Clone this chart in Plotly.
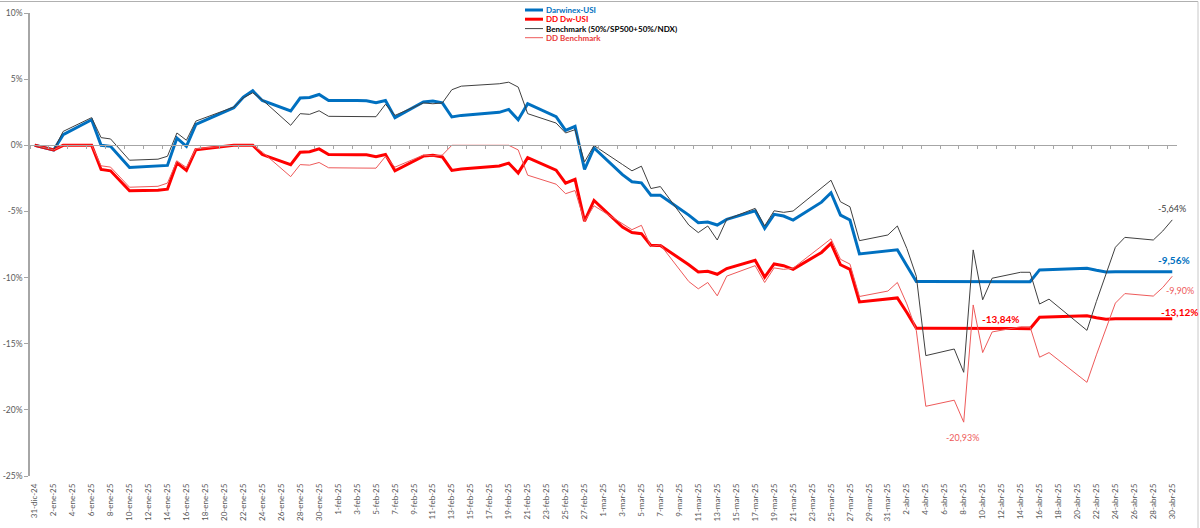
import pandas as pd
import plotly.graph_objects as go

# ---------------- data ----------------
dates = [
    "2024-12-31",
    "2025-01-02", "2025-01-03", "2025-01-06", "2025-01-07", "2025-01-08", "2025-01-10",
    "2025-01-13", "2025-01-14", "2025-01-15", "2025-01-16", "2025-01-17",
    "2025-01-21", "2025-01-22", "2025-01-23", "2025-01-24",
    "2025-01-27", "2025-01-28", "2025-01-29", "2025-01-30", "2025-01-31",
    "2025-02-03", "2025-02-04", "2025-02-05", "2025-02-06", "2025-02-07",
    "2025-02-10", "2025-02-11", "2025-02-12", "2025-02-13", "2025-02-14",
    "2025-02-18", "2025-02-19", "2025-02-20", "2025-02-21",
    "2025-02-24", "2025-02-25", "2025-02-26", "2025-02-27", "2025-02-28",
    "2025-03-03", "2025-03-04", "2025-03-05", "2025-03-06", "2025-03-07",
    "2025-03-10", "2025-03-11", "2025-03-12", "2025-03-13", "2025-03-14",
    "2025-03-17", "2025-03-18", "2025-03-19", "2025-03-20", "2025-03-21",
    "2025-03-24", "2025-03-25", "2025-03-26", "2025-03-27", "2025-03-28",
    "2025-03-31", "2025-04-01", "2025-04-02", "2025-04-03", "2025-04-04",
    "2025-04-07", "2025-04-08", "2025-04-09", "2025-04-10", "2025-04-11",
    "2025-04-14", "2025-04-15", "2025-04-16", "2025-04-17",
    "2025-04-21", "2025-04-22", "2025-04-23", "2025-04-24", "2025-04-25",
    "2025-04-28", "2025-04-29", "2025-04-30",
]

darwinex_usi = [
    0.00, -0.35, 0.80, 1.93, 0.00, -0.08, -1.68,
    -1.60, -1.52, 0.55, -0.08, 1.58,
    2.84, 3.64, 4.12, 3.39,
    2.59, 3.57, 3.62, 3.84, 3.39,
    3.38, 3.37, 3.22, 3.39, 2.09,
    3.27, 3.34, 3.21, 2.14, 2.26,
    2.49, 2.71, 1.93, 3.14,
    2.16, 1.13, 1.43, -1.83, -0.20,
    -2.22, -2.76, -2.84, -3.77, -3.77,
    -5.28, -5.85, -5.80, -6.03, -5.60,
    -4.95, -6.28, -5.22, -5.35, -5.65,
    -4.30, -3.59, -5.28, -5.65, -8.21,
    -7.95, -7.90, -9.10, -10.29, -10.29,
    -10.29, -10.29, -10.29, -10.29, -10.30,
    -10.32, -10.32, -9.42, -9.40,
    -9.30, -9.45, -9.58, -9.56, -9.56,
    -9.56, -9.56, -9.56,
]

dd_dw_usi = [
    0.00, -0.35, 0.00, 0.00, -1.83, -1.93, -3.44,
    -3.40, -3.32, -1.33, -1.90, -0.33,
    0.00, 0.00, 0.00, -0.70,
    -1.47, -0.53, -0.48, -0.27, -0.70,
    -0.71, -0.72, -0.86, -0.70, -1.93,
    -0.82, -0.75, -0.88, -1.90, -1.79,
    -1.57, -1.35, -2.10, -0.94,
    -1.88, -2.87, -2.58, -5.73, -4.17,
    -6.18, -6.60, -6.68, -7.57, -7.57,
    -9.03, -9.57, -9.52, -9.75, -9.32,
    -8.69, -9.97, -8.97, -9.10, -9.38,
    -8.10, -7.41, -9.03, -9.38, -11.84,
    -11.58, -11.54, -12.64, -13.84, -13.84,
    -13.84, -13.84, -13.84, -13.84, -13.85,
    -13.86, -13.86, -13.00, -12.98,
    -12.89, -13.03, -13.15, -13.12, -13.12,
    -13.12, -13.12, -13.12,
]

benchmark = [
    0.00, -0.35, 1.05, 2.09, 0.58, 0.48, -1.13,
    -1.05, -0.83, 0.93, 0.38, 1.83,
    2.89, 3.59, 3.97, 3.44,
    1.51, 2.39, 2.34, 2.61, 2.19,
    2.17, 2.16, 2.16, 3.10, 2.26,
    3.20, 3.14, 3.20, 4.20, 4.47,
    4.65, 4.77, 4.40, 2.39,
    1.68, 0.93, 1.18, -1.26, -0.02,
    -1.45, -1.93, -1.58, -3.27, -3.12,
    -6.03, -6.60, -6.10, -7.16, -5.60,
    -4.77, -6.10, -4.95, -5.07, -4.97,
    -3.19, -2.64, -4.27, -4.65, -7.21,
    -6.78, -6.10, -7.80, -9.90, -15.90,
    -15.40, -17.16, -7.91, -11.68, -10.05,
    -9.60, -9.60, -12.00, -11.63,
    -13.99, -11.80, -9.80, -7.71, -6.96,
    -7.16, -6.48, -5.64,
]

dd_benchmark = [
    0.00, -0.35, 0.00, 0.00, -1.55, -1.65, -3.17,
    -3.10, -2.86, -1.18, -1.68, -0.26,
    0.00, 0.00, 0.00, -0.51,
    -2.37, -1.46, -1.50, -1.30, -1.70,
    -1.72, -1.73, -1.73, -0.84, -1.65,
    -0.74, -0.80, -0.74, 0.00, 0.00,
    0.00, 0.00, -0.35, -2.26,
    -2.94, -3.66, -3.42, -5.76, -4.57,
    -5.93, -6.38, -6.05, -7.66, -7.52,
    -10.30, -10.85, -10.37, -11.38, -9.89,
    -9.10, -10.37, -9.27, -9.38, -9.29,
    -7.59, -7.07, -8.62, -8.98, -11.43,
    -11.02, -10.37, -11.99, -14.00, -19.73,
    -19.27, -20.93, -12.07, -15.67, -14.11,
    -13.72, -13.72, -16.02, -15.67,
    -17.92, -15.84, -13.93, -11.93, -11.21,
    -11.40, -10.75, -9.90,
]

series_names = ["Darwinex-USI", "DD Dw-USI", "Benchmark (50%/SP500+50%/NDX)", "DD Benchmark"]
y_tick_values = [10, 5, 0, -5, -10, -15, -20, -25]
y_tick_labels = ["10%", "5%", "0%", "-5%", "-10%", "-15%", "-20%", "-25%"]
month_abbr = {1: "ene", 2: "feb", 3: "mar", 4: "abr", 5: "may", 6: "jun",
              7: "jul", 8: "ago", 9: "sep", 10: "oct", 11: "nov", 12: "dic"}

# --------------- styling ---------------
W, H = 1200, 528
ML, MR, MT, MB = 30, 23, 13, 52
PW, PH = W - ML - MR, H - MT - MB

C_BLUE = "#0070C0"
C_RED = "#FF0000"
C_BLACK = "#404040"
C_LRED = "#EE5A5A"
C_AXIS = "#A6A6A6"
C_TXT = "#595959"
FONT = "Lato"


def px_x(px):
    return (px - ML) / PW


def px_y(py):
    return (H - MB - py) / PH


label_dates = pd.date_range("2024-12-31", "2025-04-30", freq="2D")
tick_text = [f"{d.day}-{month_abbr[d.month]}-{d.strftime('%y')}" for d in label_dates]
tick_marks = label_dates - pd.Timedelta(hours=12)

fig = go.Figure()

styles = [
    (darwinex_usi, C_BLUE, 3),
    (dd_dw_usi, C_RED, 3),
    (benchmark, C_BLACK, 1),
    (dd_benchmark, C_LRED, 1),
]
for (vals, col, wid), name in zip(styles, series_names):
    fig.add_trace(go.Scatter(x=dates, y=vals, mode="lines", name=name,
                             line=dict(color=col, width=wid),
                             showlegend=False, hoverinfo="skip"))

# helper trace so the zero-line axis (x2) is drawn
fig.add_trace(go.Scatter(x=dates[:1], y=[0], xaxis="x2", yaxis="y", mode="markers",
                         marker=dict(opacity=0), showlegend=False, hoverinfo="skip"))

x_range = ["2024-12-30 12:00", "2025-04-30 12:00"]

fig.update_layout(
    width=W, height=H,
    margin=dict(l=ML, r=MR, t=MT, b=MB, pad=0, autoexpand=False),
    paper_bgcolor="white", plot_bgcolor="white",
    font=dict(family=FONT, size=9, color=C_TXT),
    showlegend=False,
    xaxis=dict(type="date", range=x_range, tickvals=label_dates, ticktext=tick_text,
               tickangle=-90, showline=False, showgrid=False, zeroline=False, ticks="",
               ticklabelstandoff=5,
               tickfont=dict(family=FONT, size=8, color=C_TXT)),
    xaxis2=dict(type="date", range=x_range, overlaying="x", anchor="free",
                position=25 / 35, side="bottom", tickvals=tick_marks,
                showticklabels=False, ticks="outside", ticklen=3, tickcolor=C_AXIS,
                showline=True, linecolor=C_AXIS, linewidth=1.2,
                showgrid=False, zeroline=False),
    yaxis=dict(range=[-25, 10], tickvals=y_tick_values, ticktext=y_tick_labels,
               showline=True, linecolor=C_AXIS, linewidth=1.5, ticks="outside",
               ticklen=4, tickcolor=C_AXIS, showgrid=False, zeroline=False,
               tickfont=dict(family=FONT, size=8.5, color=C_TXT)),
)

shapes = []
annotations = []

# chart border (top and right visible)
shapes.append(dict(type="line", xref="paper", yref="paper", x0=px_x(0), x1=px_x(1198),
                   y0=px_y(1.5), y1=px_y(1.5), line=dict(color="#B0B0B0", width=1)))
shapes.append(dict(type="line", xref="paper", yref="paper", x0=px_x(1198), x1=px_x(1198),
                   y0=px_y(1.5), y1=px_y(528), line=dict(color="#C8C8C8", width=1)))

# manual legend
legend_rows = [10, 19.2, 28.6, 37.7]
for (vals, col, wid), name, ry in zip(styles, series_names, legend_rows):
    shapes.append(dict(type="line", xref="paper", yref="paper", x0=px_x(525), x1=px_x(543),
                       y0=px_y(ry), y1=px_y(ry), line=dict(color=col, width=wid)))
    txt_col = "#000000" if col == C_BLACK else ("#E83A3A" if col == C_LRED else col)
    annotations.append(dict(xref="paper", yref="paper", x=px_x(543.5), y=px_y(ry),
                            xanchor="left", yanchor="middle", showarrow=False,
                            text=f"<b>{name}</b>",
                            font=dict(family=FONT, size=8, color=txt_col)))

# data labels
def fmt(v):
    return f"{v:.2f}".replace(".", ",") + "%"

annotations += [
    dict(x=dates[-1], y=benchmark[-1], text=fmt(benchmark[-1]), xshift=0, yshift=11,
         font=dict(family=FONT, size=9, color=C_BLACK)),
    dict(x=dates[-1], y=darwinex_usi[-1], text=f"<b>{fmt(darwinex_usi[-1])}</b>",
         xshift=2, yshift=12, font=dict(family=FONT, size=10, color=C_BLUE)),
    dict(x=dates[-1], y=dd_benchmark[-1], text=fmt(dd_benchmark[-1]), xshift=8,
         yshift=-14, font=dict(family=FONT, size=9, color=C_LRED)),
    dict(x=dates[-1], y=dd_dw_usi[-1], text=f"<b>{fmt(dd_dw_usi[-1])}</b>", xshift=7,
         yshift=7, font=dict(family=FONT, size=10, color=C_RED)),
    dict(x=dates[69], y=dd_dw_usi[69] + 0.01, text=f"<b>{fmt(-13.84)}</b>", xshift=8,
         yshift=9.5, font=dict(family=FONT, size=10, color=C_RED)),
    dict(x=dates[66], y=dd_benchmark[66], text=fmt(dd_benchmark[66]), xshift=-1,
         yshift=-15, font=dict(family=FONT, size=9, color=C_LRED)),
]
for a in annotations[len(series_names):]:
    a.setdefault("xref", "x")
    a.setdefault("yref", "y")
    a["showarrow"] = False

fig.update_layout(shapes=shapes, annotations=annotations)
fig.write_html("out.html")
